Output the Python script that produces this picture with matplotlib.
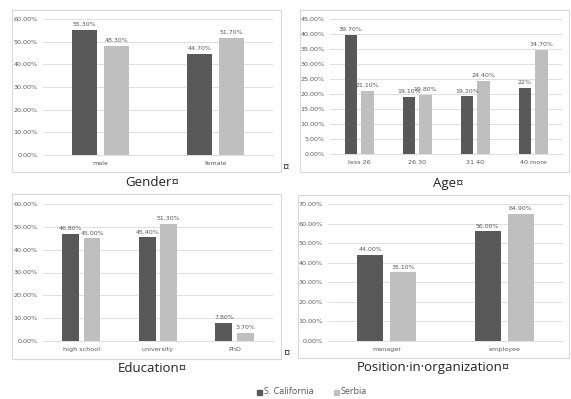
import matplotlib
matplotlib.use("Agg")
import matplotlib.pyplot as plt
from matplotlib.patches import Rectangle
from matplotlib.ticker import MultipleLocator, FuncFormatter

# ── data ─────────────────────────────────────────────────────────────────────
SERIES = ["S. California", "Serbia"]

gender_cats = ["male", "female"]
gender_sc = [55.3, 44.7]
gender_rs = [48.3, 51.7]
gender_lbl_sc = ["55.30%", "44.70%"]
gender_lbl_rs = ["48.30%", "51.70%"]

age_cats = ["less 26", "26 30", "31 40", "40 more"]
age_sc = [39.7, 19.1, 19.2, 22.0]
age_rs = [21.1, 19.8, 24.4, 34.7]
age_lbl_sc = ["39.70%", "19.10%", "19.20%", "22%"]
age_lbl_rs = ["21.10%", "19.80%", "24.40%", "34.70%"]

edu_cats = ["high school", "university", "PhD"]
edu_sc = [46.8, 45.4, 7.8]
edu_rs = [45.0, 51.3, 3.7]
edu_lbl_sc = ["46.80%", "45.40%", "7.80%"]
edu_lbl_rs = ["45.00%", "51.30%", "3.70%"]

pos_cats = ["manager", "employee"]
pos_sc = [44.0, 56.0]
pos_rs = [35.1, 64.9]
pos_lbl_sc = ["44.00%", "56.00%"]
pos_lbl_rs = ["35.10%", "64.90%"]

DARK, LIGHT = "#595959", "#bfbfbf"
TXT, GRID, BOX = "#595959", "#d9d9d9", "#d9d9d9"

W, H = 571, 399
fig = plt.figure(figsize=(W / 100, H / 100), dpi=100)
fig.patch.set_facecolor("white")


def px_axes(x0, y0, x1, y1):
    """axes from pixel box (top-left origin)"""
    return fig.add_axes([x0 / W, 1 - y1 / H, (x1 - x0) / W, (y1 - y0) / H])


def box(x0, y0, x1, y1):
    fig.patches.append(Rectangle((x0 / W, 1 - y1 / H), (x1 - x0) / W, (y1 - y0) / H,
                                 transform=fig.transFigure, fill=False,
                                 ec=BOX, lw=0.8))


def panel(rect, cats, sc, rs, lsc, lrs, ymax, step):
    ax = px_axes(*rect)
    x = list(range(len(cats)))
    w, off = 0.22, 0.14
    ax.bar([i - off for i in x], [v / 100 for v in sc], w, color=DARK, zorder=3)
    ax.bar([i + off for i in x], [v / 100 for v in rs], w, color=LIGHT, zorder=3)
    for i in x:
        ax.text(i - off, sc[i] / 100 + ymax * 0.02, lsc[i], ha="center", va="bottom",
                fontsize=4.5, color=TXT)
        ax.text(i + off, rs[i] / 100 + ymax * 0.02, lrs[i], ha="center", va="bottom",
                fontsize=4.5, color=TXT)
    ax.set_xlim(-0.5, len(cats) - 0.5)
    ax.set_ylim(0, ymax)
    ax.yaxis.set_major_locator(MultipleLocator(step))
    ax.yaxis.set_major_formatter(FuncFormatter(lambda v, p: f"{v * 100:.2f}%"))
    ax.set_xticks(x)
    ax.set_xticklabels(cats)
    ax.tick_params(length=0, labelsize=4.6, labelcolor=TXT, pad=4)
    ax.grid(axis="y", color=GRID, lw=0.6, zorder=0)
    for s in ["top", "right", "left"]:
        ax.spines[s].set_visible(False)
    ax.spines["bottom"].set_color(GRID)
    ax.spines["bottom"].set_linewidth(0.6)
    return ax


panel((43, 19, 273, 155), gender_cats, gender_sc, gender_rs, gender_lbl_sc, gender_lbl_rs, 0.6, 0.1)
panel((330, 19, 562, 154), age_cats, age_sc, age_rs, age_lbl_sc, age_lbl_rs, 0.45, 0.05)
panel((43, 204, 273, 341), edu_cats, edu_sc, edu_rs, edu_lbl_sc, edu_lbl_rs, 0.6, 0.1)
panel((328, 204, 563, 341), pos_cats, pos_sc, pos_rs, pos_lbl_sc, pos_lbl_rs, 0.7, 0.1)

box(12, 10, 281, 172)
box(300, 10, 569, 172)
box(12, 194, 281, 359)
box(298, 195, 569, 358)

TFONT = ["Open Sans", "DejaVu Sans"]
for tx, ty, t in [(152, 183, "Gender¤"), (448, 183, "Age¤"),
                  (152, 369, "Education¤"), (433, 368, "Position·in·organization¤")]:
    fig.text(tx / W, 1 - ty / H, t, ha="center", va="center", fontsize=9.5,
             color="#222222", family=TFONT)
for tx, ty in [(286, 167), (287, 353)]:
    fig.text(tx / W, 1 - ty / H, "¤", ha="center", va="center", fontsize=8,
             color="#222222", family=TFONT)

# legend
for sx, col, lab in [(259, DARK, SERIES[0]), (336, LIGHT, SERIES[1])]:
    fig.patches.append(Rectangle(((sx - 2.5) / W, 1 - 394.5 / H), 5 / W, 5 / H,
                                 transform=fig.transFigure, color=col))
    fig.text((sx + 5) / W, 1 - 392 / H, lab, ha="left", va="center", fontsize=6.5,
             color=TXT, family=TFONT)

fig.savefig("out.png", dpi=100, facecolor="white")
